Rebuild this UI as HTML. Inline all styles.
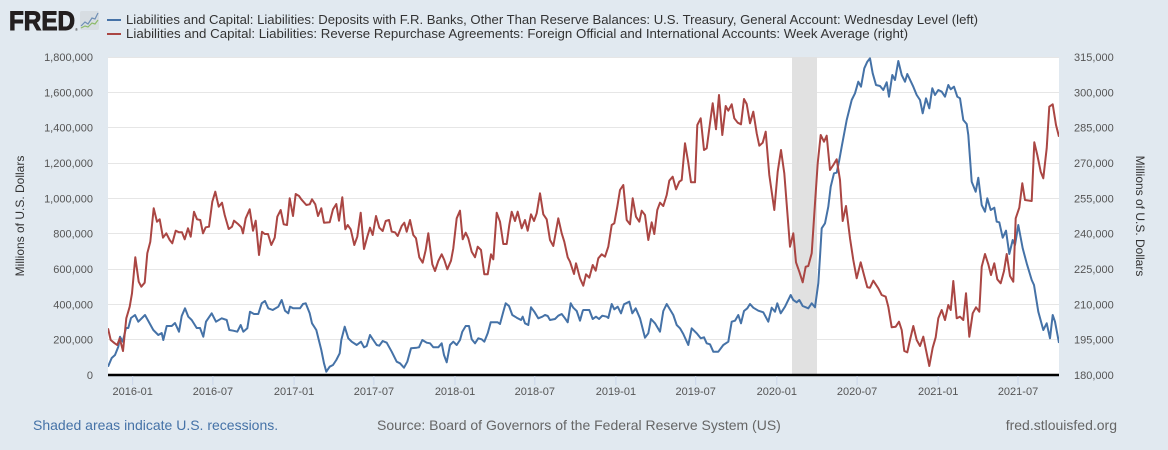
<!DOCTYPE html>
<html><head><meta charset="utf-8"><style>
html,body{margin:0;padding:0;background:#e1e9f0;}
svg{display:block;font-family:"Liberation Sans",Arial,sans-serif;}
</style></head><body>
<svg width="1168" height="450" viewBox="0 0 1168 450" xmlns="http://www.w3.org/2000/svg">
<rect x="0" y="0" width="1168" height="450" fill="#e1e9f0"/>
<!-- logo -->
<text x="9" y="30" font-size="26.5" font-weight="bold" fill="#231f20" stroke="#231f20" stroke-width="1" textLength="66" lengthAdjust="spacingAndGlyphs">FRED</text>
<text x="75" y="31" font-size="4" fill="#231f20">®</text>
<rect x="80" y="11" width="19" height="19" rx="2" fill="#d7dde2"/>
<polyline points="81,26 85,22 88,24 92,18 95,19 98,13" fill="none" stroke="#6f8fb5" stroke-width="1.2"/>
<polyline points="81,28 85,26 88,27 92,23 95,24 98,20" fill="none" stroke="#8dbb6a" stroke-width="1.2"/>
<!-- legend -->
<line x1="107" y1="20" x2="121" y2="20" stroke="#4572a7" stroke-width="2"/>
<line x1="107" y1="34" x2="121" y2="34" stroke="#aa4643" stroke-width="2"/>
<text x="126" y="24" font-size="13" fill="#333" textLength="852" lengthAdjust="spacingAndGlyphs">Liabilities and Capital: Liabilities: Deposits with F.R. Banks, Other Than Reserve Balances: U.S. Treasury, General Account: Wednesday Level (left)</text>
<text x="126" y="38" font-size="13" fill="#333" textLength="782" lengthAdjust="spacingAndGlyphs">Liabilities and Capital: Liabilities: Reverse Repurchase Agreements: Foreign Official and International Accounts: Week Average (right)</text>
<!-- plot area -->
<rect x="108" y="57" width="951" height="318" fill="#fff"/>
<g stroke="#e6e6e6" stroke-width="1">
<line x1="108" x2="1059" y1="57.5" y2="57.5"/>
<line x1="108" x2="1059" y1="92.5" y2="92.5"/>
<line x1="108" x2="1059" y1="127.5" y2="127.5"/>
<line x1="108" x2="1059" y1="163.5" y2="163.5"/>
<line x1="108" x2="1059" y1="198.5" y2="198.5"/>
<line x1="108" x2="1059" y1="233.5" y2="233.5"/>
<line x1="108" x2="1059" y1="269.5" y2="269.5"/>
<line x1="108" x2="1059" y1="304.5" y2="304.5"/>
<line x1="108" x2="1059" y1="339.5" y2="339.5"/>
</g>
<rect x="792" y="57" width="25" height="318" fill="#e1e1e1"/>
<defs><clipPath id="pc"><rect x="108" y="55" width="951" height="320"/></clipPath></defs>
<g clip-path="url(#pc)" fill="none" stroke-width="2" stroke-linejoin="round">
<polyline stroke="#4572a7" points="108,366.7 111.7,358 115,355 118.3,346.7 120,336.7 122.7,341.7 126,328 128.3,328 131,318 135,315 138.3,321.7 145,315 153.3,330 158.3,335 161.7,333 163.3,340 166.7,326 171.7,326 175,323 179,331.7 181.7,316 185,308.3 188.3,316.7 191.7,320 196.7,328 200,328 203.3,336.7 206,321.7 211.7,313.3 216,321.7 221.7,318.3 226.7,320 229.3,330 233.3,330.7 237.3,331.7 240.7,325 243.3,331.7 247.3,328.3 250,311.7 254,314 258.3,314 261.7,303.3 265,301 268.3,308.3 272.7,310 278.3,306.7 281.7,300 285,310.7 288.3,313.3 290,306.7 293.3,308.3 300,308.3 303,304 305.7,303.3 309.7,313.3 312,323.3 316.3,330 321.3,350 324,363.3 326.3,371.7 329.7,366.7 333,365 336.3,360 339.7,353.3 341.3,340 344.7,326.7 348.3,338.3 351.7,341.7 356.7,345 361,341.7 364,347.3 366.7,346 370,335 373.3,340 376.7,345 379.3,345.7 382.7,341 386.7,342.7 391.7,351.7 396.7,361.7 400,363.3 404,367.7 407.3,361.7 411,348.3 416.7,347.7 419,347.3 422.3,340 426.7,342.7 430,343.3 433.3,347.3 438.3,347.3 441.7,343.3 444,355 446.7,362.3 450,345 453.3,341.7 456.7,345 460,340 462.3,331.7 465.7,326 469,326 471.7,339.3 475,343.3 478.3,338.3 481.7,339.3 484.3,341.7 487.7,333.3 490.7,322.3 497.7,322.3 500,324 503.3,311.7 505.7,303.3 509,306 512.3,315 516.7,317.7 521,320 522.7,316.7 525,323.3 528.3,325 531,307.3 534.3,311.7 538.3,318.3 542.3,316.7 545,315 547.7,316 550,320 555,319 558.3,315.7 561.7,314 565,318.3 567.7,322.3 570.7,303.3 573.3,307.7 576.7,311 580,320.7 582.7,311 583.3,310 589.3,310 592.7,319 596,316.7 599,319 602.3,315.7 606.7,316.7 608.3,318 611.7,304 614.3,309.3 617.7,306.7 621,313.3 624,304.3 629.3,301.7 632.3,313.3 635.7,308.3 640,318.3 645,337.7 648.3,333.3 651,319 655,323.3 660,331.7 663.3,311 666.7,304 673.3,315 676.7,325 680,328.3 683.3,334 688.3,345 691.7,328.3 696.7,333.3 700.7,338.3 704,337.3 706.7,343.3 710,344.3 713.3,351.7 718.3,351.7 723.3,345 728.3,341.7 731.7,321.7 735,320.7 738.3,315 741,323.3 744,311 747.3,308.3 750,304 753.3,307.7 758.3,310.7 763.3,312.3 768.3,321.7 771.7,307.7 775,311.7 777.3,303.3 780.7,313.3 785,306.7 790.7,295 793.3,300 796.7,302.3 799.3,300 802.7,306 808.3,308.3 811.7,303.3 815,307.3 818.3,283.3 820,256.7 821.7,228.3 825,223.3 828.3,206.7 830.7,186.7 834,173.3 836.7,172.7 839.3,160 841.7,146.7 846.7,120 851.7,100 855,93.3 858.3,81.7 861,86.7 864.3,68.3 867.3,61.7 870,58.3 872.7,73.3 876,85 880,86 883.3,90 886.7,82.3 889,96.7 892.3,75 895,80 898.3,61 901.7,75 905,81.7 907.3,74 913.3,86.7 916.7,95 920,100 922.7,113.3 926,98.3 929.3,108.3 932.3,88.3 935,95 938.3,90 941.7,91.7 945,96.7 948.3,85 950.7,89.3 954,86.7 957.3,96.7 960,98.3 963.3,120 966.7,124 968.3,135 971.7,181.7 975.7,191.7 978.3,177.7 981.7,205 985,211.7 987.3,198.3 990.7,210 994.3,207.7 996.7,221.7 999.3,222.3 1002.7,237.7 1006,230.7 1009.3,254 1012.7,240 1015,245 1018.3,225 1022.7,248.3 1026.7,263.3 1031.7,280 1034,285 1038.3,311.7 1043.3,330 1046.7,323.3 1050,338.3 1052.7,315 1055,321.7 1059,343"/>
<polyline stroke="#aa4643" points="108,328.3 110.7,340 114.7,343.3 117.3,345 119.7,338.3 123,351 126.3,318.3 129.7,306.7 132,293.3 135.3,257.3 138.7,281.7 141.3,286.7 144.7,282.7 147.3,253.3 150.3,241.7 153.7,208.3 157,221.7 159.7,219.3 163,237.7 166.3,233.3 169.7,240 172.3,243.3 175.7,230.7 179,232.3 182,232.3 184.7,239.3 188,228.3 190.7,236.7 194,211.7 197,219.3 200.3,220 203,233.3 205.7,227.3 209,226.7 212.3,201.7 215.3,191.7 218.7,206.7 222,202.7 224.7,215 228.7,229 232,226.7 234,220.7 238,224 241.3,227.3 243,233.3 245.7,218.3 249.7,209.3 253,230.7 255.7,220.7 259,255 262,231.7 264.7,234 268,234 271.3,245 274.7,237.7 277.3,216.7 280.7,210 283.7,224.3 287,225 289.7,198.3 293,216 295.7,194 299,196 301.3,199.3 306.3,205 309.7,204.3 312,199.3 315.3,204.3 318,216 321.3,208.3 324,222.7 329.7,222.3 333,209.3 336.3,204 339,220.7 342.3,197.3 345.3,229.3 347.7,225 350.7,229.3 354.3,245 357.3,236.7 360.7,212.7 364,249 367.3,236.7 370,227.7 372.7,235 376,216 379.3,227.7 382.7,231 385.7,221 389,220 391.7,231.7 395,232.3 397.7,236 401.7,226 404.3,222.7 406.7,231.7 410,220 413.3,235 416,238.3 419.3,257.3 422.7,262.7 425.7,250 428.3,233.3 432.3,264.3 435,271 438.3,261 441.7,254.3 444.3,260 447.3,269.3 451,260.7 453.3,248.3 456.7,218.3 460,210.7 462.7,239.3 465.7,232.7 468.3,238.3 471.7,251.7 475,257.3 477.7,246.7 481,250 484.3,274.3 487.7,274.3 491,254.3 493.3,259.3 496.7,212.7 500,221.7 503.3,244 506.7,244 509.3,225 511.7,211.7 515,221 517.7,211.7 521.7,228.3 525,220 527.7,230.7 531,214.3 534,221 536.7,213.3 540,193.3 543.3,214.3 546.7,219.3 550,240 553.3,246 558.3,218.3 561.7,233.3 564.3,241.7 567.7,257.3 570,261.7 574,274 576,263.3 580,278.3 583.3,285.7 586,274.3 589.3,277.7 592.7,265 595.7,270.7 598.3,258.3 601.7,254.3 605,256.7 608.3,246.7 611.7,225 614.3,223.3 617.3,206.7 620,190 623.3,185 626.7,220 630,224.3 632.7,198.3 636,216.7 639.3,221.7 641.7,210.7 645,215 648.3,240 651.7,222.3 654.3,234 657.3,210 660,202.7 663.3,206 666.7,195 669.3,180.7 672.7,176.7 676,189.3 679.3,181.7 681.7,180 685,143.3 688.3,162.7 691,182.3 695,182.3 697.3,125 700.7,118.3 704,150 706.7,148.3 710,123.3 712.7,103.3 716,129.3 719,95 722.3,135 725.7,106 728.3,110.7 731.7,104.3 734.3,118.3 737.7,122.7 741,124.3 744,99 746.7,104 750,123.3 753.3,111.7 756.7,133.3 759.3,145.7 762.7,142.7 765.7,131.7 769.3,175 774.3,210 777.7,171.7 781,150 784.3,173.3 790,246.7 793.3,233.3 796,262.3 799.3,271.7 802.7,282.3 805.7,266.7 808.3,266 811.7,253.3 815,203.3 817.7,163.3 820.7,135 824,141.7 826.7,135.7 830,170 833.3,165 836.7,159.3 840,180 842.7,221 846,206 850,238.3 853.3,260 856.7,278.3 860.7,262.3 864,275 867.3,287.3 870,287.7 873.3,280.7 878.3,288.3 881.7,295 885.7,296.7 888.3,306.7 891.7,327.3 895.7,326.7 899,321.7 901.7,330 904.3,351 907.3,352.3 910,340 913.3,326 916.7,340 920,346 923.3,336.7 926,350 929.3,366 932.7,347.7 935.7,337.3 938.3,318.3 941.7,310 945,320 948.3,305 950.7,310 953.3,281 956.7,318.3 960,316.7 963.3,320 966,293.3 969.3,336.7 972.7,313.3 976,307.3 979.3,311.7 981.7,266.7 985,254 988.3,264.3 991,275 994.3,263.3 997.3,279.3 1000.7,283.3 1004,271 1006.7,254 1010,276 1013.3,281.7 1015.7,218.3 1019.3,207.7 1022.3,183.3 1025,200 1031.7,201 1034.3,142.3 1037.3,155 1040.7,171.7 1043.3,178.3 1046.7,148.3 1049.3,106.7 1052.7,104.3 1056,125 1059,136.7"/>
</g>
<!-- x axis -->
<line x1="108" x2="1059" y1="375" y2="375" stroke="#000" stroke-width="2.5"/>
<g stroke="#ccd6eb" stroke-width="1">
<line x1="132.7" x2="132.7" y1="376" y2="385"/>
<line x1="212.9" x2="212.9" y1="376" y2="385"/>
<line x1="294.1" x2="294.1" y1="376" y2="385"/>
<line x1="373.9" x2="373.9" y1="376" y2="385"/>
<line x1="455" x2="455" y1="376" y2="385"/>
<line x1="534.8" x2="534.8" y1="376" y2="385"/>
<line x1="615.9" x2="615.9" y1="376" y2="385"/>
<line x1="695.7" x2="695.7" y1="376" y2="385"/>
<line x1="776.8" x2="776.8" y1="376" y2="385"/>
<line x1="857.1" x2="857.1" y1="376" y2="385"/>
<line x1="938.2" x2="938.2" y1="376" y2="385"/>
<line x1="1018" x2="1018" y1="376" y2="385"/>
</g>
<g font-size="11" fill="#555" text-anchor="middle">
<text x="132.7" y="395">2016-01</text>
<text x="212.9" y="395">2016-07</text>
<text x="294.1" y="395">2017-01</text>
<text x="373.9" y="395">2017-07</text>
<text x="455" y="395">2018-01</text>
<text x="534.8" y="395">2018-07</text>
<text x="615.9" y="395">2019-01</text>
<text x="695.7" y="395">2019-07</text>
<text x="776.8" y="395">2020-01</text>
<text x="857.1" y="395">2020-07</text>
<text x="938.2" y="395">2021-01</text>
<text x="1018" y="395">2021-07</text>
</g>
<!-- left axis labels -->
<g font-size="11" fill="#555" text-anchor="end">
<text x="93" y="61">1,800,000</text>
<text x="93" y="96.3">1,600,000</text>
<text x="93" y="131.7">1,400,000</text>
<text x="93" y="167">1,200,000</text>
<text x="93" y="202.3">1,000,000</text>
<text x="93" y="237.7">800,000</text>
<text x="93" y="273">600,000</text>
<text x="93" y="308.3">400,000</text>
<text x="93" y="343.7">200,000</text>
<text x="93" y="379">0</text>
</g>
<g font-size="11" fill="#555" text-anchor="start">
<text x="1074" y="61">315,000</text>
<text x="1074" y="96.3">300,000</text>
<text x="1074" y="131.7">285,000</text>
<text x="1074" y="167">270,000</text>
<text x="1074" y="202.3">255,000</text>
<text x="1074" y="237.7">240,000</text>
<text x="1074" y="273">225,000</text>
<text x="1074" y="308.3">210,000</text>
<text x="1074" y="343.7">195,000</text>
<text x="1074" y="379">180,000</text>
</g>
<text transform="translate(24,216) rotate(-90)" font-size="12" fill="#333" text-anchor="middle">Millions of U.S. Dollars</text>
<text transform="translate(1136,216) rotate(90)" font-size="12" fill="#333" text-anchor="middle">Millions of U.S. Dollars</text>
<!-- footer -->
<text x="33" y="430" font-size="14" fill="#4572a7">Shaded areas indicate U.S. recessions.</text>
<text x="377" y="430" font-size="14" fill="#666">Source: Board of Governors of the Federal Reserve System (US)</text>
<text x="1117" y="430" font-size="14" fill="#666" text-anchor="end">fred.stlouisfed.org</text>
</svg>
</body></html>
